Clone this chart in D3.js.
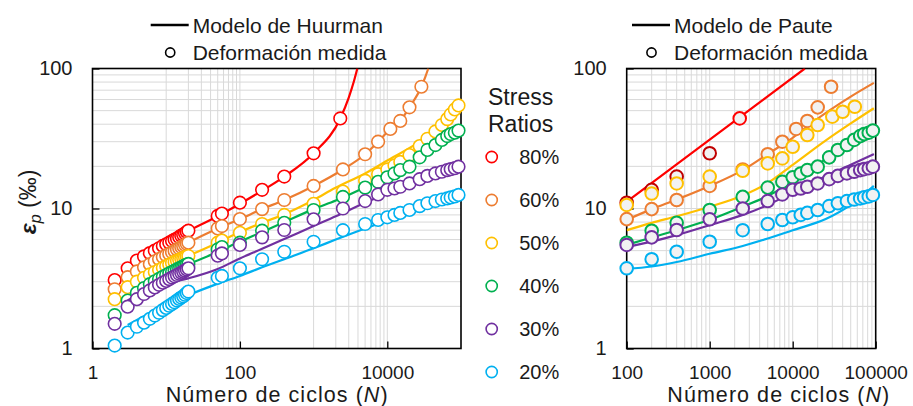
<!DOCTYPE html>
<html><head><meta charset="utf-8">
<script src="https://cdn.jsdelivr.net/npm/d3@7/dist/d3.min.js"></script>
<style>
body{margin:0;background:#fff}
text{font-family:"Liberation Sans",Arial,sans-serif;fill:#1a1a1a}
</style>
</head><body>
<svg id="c" width="913" height="406"></svg>
<script>
// ---------- DATA ----------
const ratios = ["80%","60%","50%","40%","30%","20%"];
const xTicksLeft = [1,100,10000];
const xTicksRight = [100,1000,10000,100000];
const yTicks = [1,10,100];

// measured cycles
const nDense = [2,3,4,5,6,7,8,9,10,11,12,13,14,15,16,17,18,19,20];
const nMid = [50,57,100,200,400,1000];
const nLong = [2500,5000,7500,10000,12500,15000,20000,27500,35000,45000,55000,65000,72500,82500,92500];
const nRedEnd = [2300];
const nOrangeEnd = [2500,5000,7500,11000,15000,20000,29000];

// measured permanent strain (‰)
const red80 = [3.08,3.74,4.25,4.55,4.8,5.0,5.2,5.4,5.55,5.7,5.85,6.0,6.1,6.25,6.4,6.5,6.65,6.8,6.94,
               8.85,9.2,11.0,13.6,16.9,24.8, 44];
const orange60 = [2.65,3.23,3.55,3.8,4.0,4.2,4.35,4.5,4.62,4.75,4.87,4.98,5.1,5.2,5.3,5.4,5.5,5.6,5.7,
                  7.2,7.5,8.4,9.9,11.5,14.5, 19.0,24.4,30.0,37.0,42.2,52.8,74.1];
const yellow50 = [2.25,2.74,3.0,3.2,3.38,3.52,3.65,3.77,3.88,3.98,4.07,4.15,4.23,4.3,4.37,4.43,4.49,4.54,4.58,
                  5.7,5.9,6.7,7.75,9.0,10.8, 13.2,15.8,17.6,19.0,20.3,21.5,24.1,27.9,31.5,35.5,39.5,43.5,47.0,51.0,54.5];
const green40 = [1.73,2.2,2.5,2.7,2.88,3.02,3.14,3.25,3.35,3.44,3.52,3.6,3.67,3.74,3.8,3.86,3.92,3.97,4.02,
                 5.1,5.3,5.7,6.94,7.9,9.76, 12.1,14.1,15.5,16.7,17.8,18.8,19.9,23.2,26.2,28.4,30.9,32.9,34.0,34.8,36.0];
const purple30 = [1.5,1.99,2.25,2.45,2.6,2.73,2.85,2.95,3.04,3.13,3.21,3.28,3.35,3.42,3.48,3.54,3.6,3.67,3.74,
                  4.6,4.78,5.49,6.22,7.02,8.37, 10.0,11.3,12.6,13.6,13.9,14.3,15.1,16.2,17.1,17.8,18.3,18.8,19.1,19.4,19.9];
const blue20 = [1.05,1.3,1.43,1.53,1.63,1.72,1.8,1.88,1.95,2.02,2.08,2.14,2.2,2.26,2.31,2.36,2.42,2.49,2.55,
                3.2,3.3,3.74,4.34,4.91,5.79, 7.0,7.75,8.28,8.65,9.0,9.3,9.76,10.4,10.9,11.3,11.6,11.8,12.0,12.2,12.5];

// right-panel 50% measurements
const yellowRightN = [100,200,400,1000,2500,5000,7500,10000,15000,20000,30000,40000,56000];
const yellowRightEps = [10.6,12.8,15.1,16.9,18.6,21.0,22.8,27.6,33.5,39.5,45.3,49.1,53.3];

// Huurman model curves (left)
const huurRedN = [3,5,10,20,50,100,200,400,1000,2300,3000,3500,3920];
const huurRedEps = [3.7,4.4,5.5,6.9,8.8,10.8,13.4,16.9,24.8,44,62,80,100];
const huurOrangeN = [3,5,10,20,50,100,200,400,1000,2500,5000,7500,11000,15000,20000,29000,33000,36000];
const huurOrangeEps = [3.2,3.8,4.6,5.7,7.2,8.4,9.9,11.5,14.5,19,24.4,30,37,42.2,52.8,74.1,88,100];
const huurYellowN = [3,5,10,20,50,100,200,400,1000,1950,5000,10300,27500,50000,92500];
const huurYellowEps = [2.75,3.25,3.95,4.6,5.7,6.8,7.9,9.1,11.5,14.0,17.8,22.2,30,38,50.5];
const huurGreenN = [3,5,10,20,50,100,200,400,1000,2000,5000,10000,20000,50000,92500];
const huurGreenEps = [2.3,2.9,3.45,4.0,4.9,5.8,6.8,8.0,9.9,11.4,14.2,17,20.5,28.5,35.5];
const huurPurpleN = [3,5,10,20,50,100,200,400,1000,2000,5000,10000,20000,50000,92500];
const huurPurpleEps = [2.2,2.55,2.9,3.17,3.7,4.4,5.15,6.05,7.5,8.8,11.0,12.8,14.6,17.2,19.0];
const huurBlueN = [3,5,10,20,50,100,200,400,1000,2000,5000,10000,20000,50000,92500];
const huurBlueEps = [1.47,1.7,2.0,2.4,2.9,3.3,3.8,4.35,5.2,6.0,7.2,8.2,9.3,10.7,11.8];

// Paute model curves (right)
const pauteRedN = [100,1000,14000];
const pauteRedEps = [11.2,31,100];
const pauteOrangeN = [100,200,400,1000,2500,5000,10000,17800,50000,95000];
const pauteOrangeEps = [8.3,9.9,11.6,14.5,18.8,24.5,32,41.7,63,79];
const pauteYellowN = [100,200,400,1000,2500,5000,10000,25600,50000,95000];
const pauteYellowEps = [7.0,7.9,8.8,10.3,12.4,15.2,20.5,30.9,40.5,52];
const pauteGreenN = [100,200,400,1000,2500,5000,10000,25000,50000,95000];
const pauteGreenEps = [5.5,6.2,7.0,8.3,10.3,12.3,15.5,22.5,29,35.5];
const pautePurpleN = [100,200,400,1000,2500,5000,10000,25000,50000,95000];
const pautePurpleEps = [5.3,5.8,6.45,7.6,9.0,10.6,13.0,17,20.5,24.5];
const pauteBlueN = [100,200,400,1000,2500,5000,10000,25000,50000,95000];
const pauteBlueEps = [3.7,3.85,4.15,4.75,5.4,6.1,7.0,8.4,10.6,14.5];

// ---------- STYLE ----------
const colors = ["#FF0000","#ED7D31","#FFC000","#00B050","#7030A0","#00B0F0"];
const grid = "#D9D9D9";

const svg = d3.select("#c");
const Y0 = 68.5, Y1 = 348.5;
const L = {x0:92.5, x1:461};
const R = {x0:626.7, x1:875.7};

const yL = d3.scaleLog().domain([1,100]).range([Y1,Y0]);
const xL = d3.scaleLog().domain([1,100000]).range([L.x0,L.x1]);
const xR = d3.scaleLog().domain([100,100000]).range([R.x0,R.x1]);

const nRed = nDense.concat(nMid, nRedEnd);
const nOrange = nDense.concat(nMid, nOrangeEnd);
const nStd = nDense.concat(nMid, nLong);
const measured = [
  {n:nRed, e:red80}, {n:nOrange, e:orange60}, {n:nStd, e:yellow50},
  {n:nStd, e:green40}, {n:nStd, e:purple30}, {n:nStd, e:blue20}
];
const huurman = [
  [huurRedN,huurRedEps],[huurOrangeN,huurOrangeEps],[huurYellowN,huurYellowEps],
  [huurGreenN,huurGreenEps],[huurPurpleN,huurPurpleEps],[huurBlueN,huurBlueEps]
];
const paute = [
  [pauteRedN,pauteRedEps],[pauteOrangeN,pauteOrangeEps],[pauteYellowN,pauteYellowEps],
  [pauteGreenN,pauteGreenEps],[pautePurpleN,pautePurpleEps],[pauteBlueN,pauteBlueEps]
];

const defs = svg.append("defs");
defs.append("clipPath").attr("id","clipL").append("rect")
  .attr("x",L.x0).attr("y",Y0).attr("width",L.x1-L.x0).attr("height",Y1-Y0);
defs.append("clipPath").attr("id","clipR").append("rect")
  .attr("x",R.x0).attr("y",Y0).attr("width",R.x1-R.x0).attr("height",Y1-Y0);

// y minor grid values
const yGrid = [];
[1,10].forEach(b=>{for(let k=1;k<=9;k++){ if(b*k>1) yGrid.push(b*k);} });
// left x grid: 10..100, 1000..10000
const xGridL = [];
[10,1000].forEach(b=>{for(let k=1;k<=10;k++) xGridL.push(b*k);});
// right x grid: standard
const xGridR = [];
[100,1000,10000].forEach(b=>{for(let k=1;k<=9;k++){ if(b*k>100) xGridR.push(b*k);} });

function panel(x, P, xGrid, xTicks){
  const g = svg.append("g");
  g.selectAll(".hg").data(yGrid).join("line")
    .attr("x1",P.x0).attr("x2",P.x1).attr("y1",d=>yL(d)).attr("y2",d=>yL(d))
    .attr("stroke",grid).attr("stroke-width",1);
  g.selectAll(".vg").data(xGrid).join("line")
    .attr("x1",d=>x(d)).attr("x2",d=>x(d)).attr("y1",Y0).attr("y2",Y1)
    .attr("stroke",grid).attr("stroke-width",1);
  const ax = g.append("g").attr("transform",`translate(0,${Y1})`)
    .call(d3.axisBottom(x).tickValues(xTicks).tickFormat(d3.format("d"))
      .tickSizeInner(-7).tickSizeOuter(0).tickPadding(17));
  ax.select(".domain").remove();
  ax.selectAll("line").attr("stroke","#000").attr("stroke-width",1.3);
  ax.selectAll("text").attr("font-size",19).attr("fill","#1a1a1a");
  const ay = g.append("g").attr("transform",`translate(${P.x0},0)`)
    .call(d3.axisLeft(yL).tickValues(yTicks).tickFormat(d3.format("d"))
      .tickSizeInner(-7).tickSizeOuter(0).tickPadding(20));
  ay.select(".domain").remove();
  ay.selectAll("line").attr("stroke","#000").attr("stroke-width",1.3);
  ay.selectAll("text").attr("font-size",20).attr("fill","#1a1a1a");
  g.append("rect").attr("x",P.x0).attr("y",Y0).attr("width",P.x1-P.x0).attr("height",Y1-Y0)
    .attr("fill","none").attr("stroke","#000").attr("stroke-width",1.6);
  return g;
}

const gL = panel(xL, L, xGridL, xTicksLeft);
const gR = panel(xR, R, xGridR, xTicksRight);

const lineL = d3.line().x(d=>xL(d[0])).y(d=>yL(d[1])).curve(d3.curveMonotoneX);
const lineR = d3.line().x(d=>xR(d[0])).y(d=>yL(d[1])).curve(d3.curveMonotoneX);

// ---- left panel series ----
measured.forEach((s,i)=>{
  gL.append("path").attr("d",lineL(d3.zip(huurman[i][0],huurman[i][1])))
    .attr("fill","none").attr("stroke",colors[i]).attr("stroke-width",2.2)
    .attr("clip-path","url(#clipL)");
  gL.append("g").selectAll("circle").data(d3.zip(s.n,s.e)).join("circle")
    .attr("cx",d=>xL(d[0])).attr("cy",d=>yL(d[1])).attr("r",6.3)
    .attr("fill","#fff").attr("stroke",colors[i]).attr("stroke-width",1.6);
});

// ---- right panel series ----
measured.forEach((s,i)=>{
  gR.append("path").attr("d",lineR(d3.zip(paute[i][0],paute[i][1])))
    .attr("fill","none").attr("stroke",colors[i]).attr("stroke-width",2.2)
    .attr("clip-path","url(#clipR)");
  const pts = (i===2) ? d3.zip(yellowRightN,yellowRightEps)
                      : d3.zip(s.n,s.e).filter(d=>d[0]>=100);
  gR.append("g").selectAll("circle").data(pts).join("circle")
    .attr("cx",d=>xR(d[0])).attr("cy",d=>yL(d[1])).attr("r",6.3)
    .attr("fill","#F2F2F2")
    .attr("stroke",(d,j)=> (i===0 && j<pts.length-1) ? "#C00000" : colors[i])
    .attr("stroke-width",2);
});

// ---- axis titles ----
function xTitle(cx){
  const t = svg.append("text").attr("x",cx).attr("y",402.3).attr("text-anchor","middle")
    .attr("font-size",21.5).attr("letter-spacing",1.05);
  t.append("tspan").text("Número de ciclos (");
  t.append("tspan").attr("font-style","italic").text("N");
  t.append("tspan").text(")");
}
xTitle(277.2);
xTitle(778.8);

const yt = svg.append("text").attr("transform","translate(36,202) rotate(-90)")
  .attr("text-anchor","middle").attr("font-size",23);
yt.append("tspan").attr("font-style","italic").attr("font-weight","bold").text("ε");
yt.append("tspan").attr("font-style","italic").attr("font-size",16).attr("dy",5).text("p");
yt.append("tspan").attr("dy",-5).text(" (‰)");

// ---- top legends ----
function topLegend(lx, label){
  svg.append("line").attr("x1",lx).attr("x2",lx+38).attr("y1",25).attr("y2",25)
    .attr("stroke","#000").attr("stroke-width",2.5);
  svg.append("text").attr("x",lx+42).attr("y",33).attr("font-size",21).text(label);
  svg.append("circle").attr("cx",lx+19.5).attr("cy",52.5).attr("r",4.6)
    .attr("fill","none").attr("stroke","#000").attr("stroke-width",1.6);
  svg.append("text").attr("x",lx+42).attr("y",60).attr("font-size",21).text("Deformación medida");
}
topLegend(150.7,"Modelo de Huurman");
topLegend(632,"Modelo de Paute");

// ---- stress ratio legend ----
svg.append("text").attr("x",488).attr("y",105).attr("font-size",23).text("Stress");
svg.append("text").attr("x",488).attr("y",131.5).attr("font-size",23).text("Ratios");
const lg = svg.append("g").selectAll("g").data(ratios).join("g")
  .attr("transform",(d,i)=>`translate(491.7,${157+i*43})`);
lg.append("circle").attr("r",5.6).attr("fill","#fff").attr("stroke",(d,i)=>colors[i]).attr("stroke-width",1.6);
lg.append("text").attr("x",27.5).attr("y",7).attr("font-size",20).attr("fill","#333").text(d=>d);
</script>
</body></html>
